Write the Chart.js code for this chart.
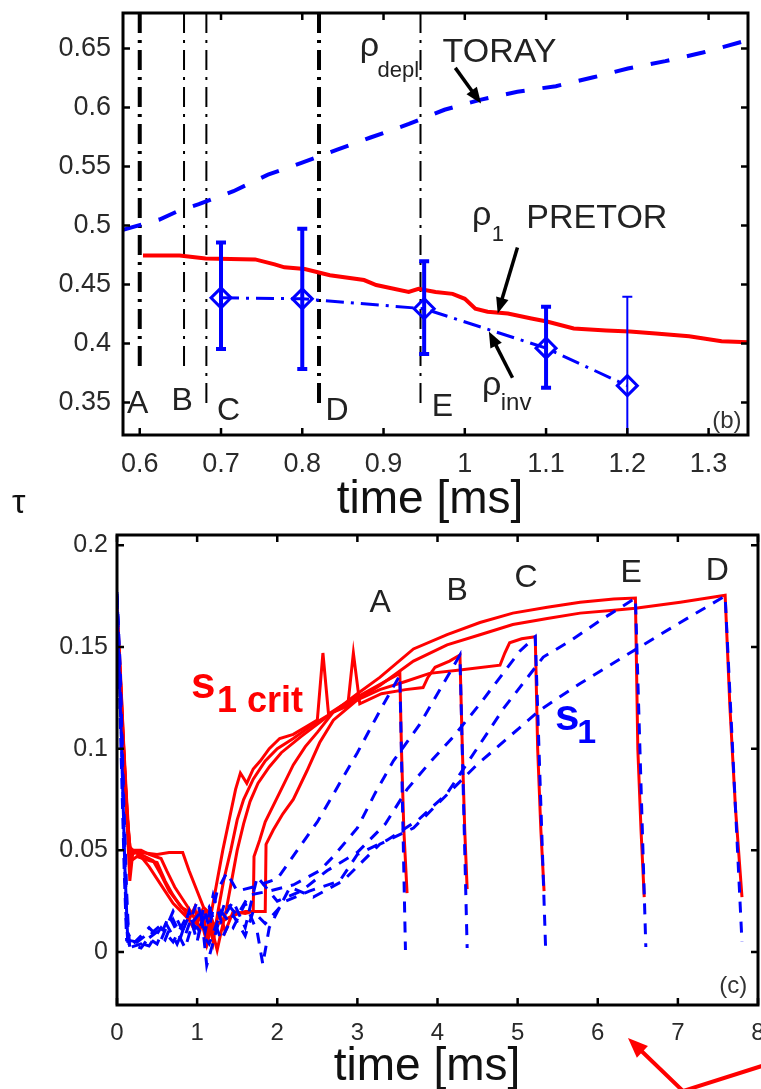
<!DOCTYPE html>
<html>
<head>
<meta charset="utf-8">
<script src="https://cdn.jsdelivr.net/npm/chart.js@4.4.0/dist/chart.umd.min.js"></script>
<style>
  html, body { margin: 0; padding: 0; background: #fff; }
  #wrap { position: relative; width: 761px; height: 1089px; overflow: hidden; font-family: "Liberation Sans", Arial, sans-serif; }
  canvas { position: absolute; left: 0; }
  #topChart { top: 0; }
  #botChart { top: 520px; }
  .lbl { position: absolute; color: #111; white-space: nowrap; line-height: 1; }
</style>
</head>
<body>
<div id="wrap">
  <canvas id="topChart" width="761" height="520"></canvas>
  <canvas id="botChart" width="780" height="569"></canvas>
  <div class="lbl" style="left:430px;top:474px;font-size:46px;transform:translateX(-50%)">time [ms]</div>
  <div class="lbl" style="left:427px;top:1041px;font-size:46px;transform:translateX(-50%)">time [ms]</div>
  <div class="lbl" style="left:12px;top:484px;font-size:34px">τ</div>
</div>
<script>
const FONT = '"Liberation Sans", Arial, sans-serif';

// ---------- panel (b) ----------
const topXTicks = [0.6, 0.7, 0.8, 0.9, 1, 1.1, 1.2, 1.3];
const topYTicks = [0.35, 0.4, 0.45, 0.5, 0.55, 0.6, 0.65];

// rho_depl TORAY
const deplT = [0.5794, 0.6243, 0.6498, 0.6728, 0.7153, 0.7578, 0.799, 0.8439, 0.884, 0.9313, 0.975, 1.02, 1.0648, 1.1121, 1.1583, 1.2007, 1.2468, 1.2929, 1.3485];
const deplV = [0.4963, 0.505, 0.513, 0.518, 0.529, 0.543, 0.553, 0.5645, 0.5745, 0.586, 0.598, 0.6066, 0.6133, 0.618, 0.6255, 0.633, 0.6392, 0.6465, 0.657];

// rho_1 PRETOR
const pretorT = [0.604, 0.649, 0.681, 0.742, 0.766, 0.778, 0.803, 0.834, 0.876, 0.891, 0.931, 0.943, 0.964, 0.985, 1.0, 1.013, 1.028, 1.053, 1.082, 1.101, 1.134, 1.174, 1.203, 1.235, 1.276, 1.316, 1.349];
const pretorV = [0.4746, 0.4746, 0.472, 0.4712, 0.467, 0.4645, 0.463, 0.4578, 0.4537, 0.4495, 0.4436, 0.4462, 0.4436, 0.442, 0.4378, 0.4294, 0.4269, 0.4253, 0.4211, 0.4186, 0.4127, 0.411, 0.4102, 0.4085, 0.406, 0.4018, 0.401];

// rho_inv with error bars
const invT = [0.7, 0.8, 0.95, 1.1, 1.2];
const invV = [0.4386, 0.4378, 0.4294, 0.396, 0.3642];
const invLo = [0.3952, 0.3784, 0.391, 0.3625, 0.2889];
const invHi = [0.4855, 0.4972, 0.4696, 0.4311, 0.4395];
const errWidths = [4, 4, 4, 4, 2];

// crash time markers
const markT = [0.6, 0.6545, 0.682, 0.8206, 0.9455];
const markEnd = [0.375, 0.377, 0.346, 0.345, 0.346];
const markNames = ['A', 'B', 'C', 'D', 'E'];
const markWidths = [4, 2, 2, 4, 2];
const markLabelPos = [[0.5976, 0.3408], [0.6522, 0.3433], [0.7092, 0.335], [0.8427, 0.335], [0.9726, 0.3383]];

// ---------- panel (c) ----------
const botXTicks = [0, 1, 2, 3, 4, 5, 6, 7, 8];
const botYTicks = [0, 0.05, 0.1, 0.15, 0.2];

const critA = [[0,0.168],[0.03,0.145],[0.07,0.11],[0.11,0.08],[0.15,0.052],[0.2,0.05],[0.3,0.047],[0.4,0.042],[0.5,0.036],[0.6,0.03],[0.7,0.024],[0.8,0.02],[0.9,0.016],[0.97,0.022],[1.03,0.01],[1.08,0.018],[1.13,0.006],[1.18,0.02],[1.25,0.035],[1.32,0.05],[1.4,0.065],[1.48,0.08],[1.54,0.088],[1.62,0.083],[1.7,0.09],[1.79,0.094],[1.9,0.1],[2.03,0.105],[2.2,0.107],[2.37,0.111],[2.5,0.114],[2.57,0.147],[2.64,0.117],[2.8,0.121],[3.12,0.128],[3.3,0.132],[3.53,0.137],[3.55,0.1],[3.58,0.06],[3.62,0.029]];
const critB = [[0,0.165],[0.04,0.135],[0.08,0.1],[0.12,0.07],[0.17,0.048],[0.25,0.049],[0.35,0.047],[0.45,0.045],[0.55,0.038],[0.65,0.03],[0.75,0.025],[0.85,0.02],[0.95,0.012],[1.02,0.02],[1.1,0.008],[1.15,0.015],[1.2,0.005],[1.26,0.02],[1.33,0.035],[1.42,0.05],[1.5,0.065],[1.58,0.075],[1.7,0.085],[1.85,0.094],[2.0,0.1],[2.2,0.105],[2.45,0.112],[2.7,0.118],[2.88,0.121],[2.95,0.147],[3.03,0.122],[3.3,0.127],[3.6,0.129],[3.82,0.13],[3.88,0.135],[3.97,0.14],[4.15,0.143],[4.28,0.146],[4.31,0.1],[4.34,0.06],[4.37,0.031]];
const critC = [[0,0.16],[0.05,0.13],[0.09,0.095],[0.13,0.06],[0.16,0.035],[0.2,0.05],[0.3,0.05],[0.4,0.048],[0.55,0.046],[0.62,0.04],[0.72,0.032],[0.82,0.026],[0.92,0.02],[1.0,0.014],[1.06,0.02],[1.12,0.004],[1.18,0.012],[1.25,0.001],[1.3,0.01],[1.36,0.02],[1.43,0.035],[1.5,0.05],[1.58,0.063],[1.66,0.074],[1.76,0.083],[1.9,0.091],[2.05,0.098],[2.3,0.106],[2.7,0.118],[3.0,0.124],[3.28,0.129],[3.6,0.133],[3.9,0.137],[4.28,0.1386],[4.78,0.141],[4.84,0.147],[4.9,0.152],[5.05,0.154],[5.22,0.155],[5.25,0.1],[5.29,0.06],[5.33,0.03]];
const critE = [[0,0.17],[0.04,0.14],[0.08,0.105],[0.12,0.075],[0.16,0.05],[0.3,0.049],[0.5,0.048],[0.65,0.049],[0.82,0.049],[0.9,0.04],[1.0,0.03],[1.08,0.022],[1.16,0.019],[1.22,0.012],[1.28,0.02],[1.35,0.01],[1.45,0.02],[1.6,0.019],[1.7,0.02],[1.71,0.047],[1.78,0.055],[1.85,0.064],[1.95,0.072],[2.05,0.08],[2.2,0.092],[2.35,0.101],[2.5,0.108],[2.7,0.118],[3.0,0.127],[3.28,0.135],[3.7,0.149],[4.12,0.156],[4.53,0.162],[4.94,0.1666],[5.37,0.1695],[5.78,0.172],[6.2,0.1735],[6.47,0.174],[6.5,0.1],[6.54,0.06],[6.58,0.027]];
const critD = [[0,0.166],[0.05,0.12],[0.1,0.085],[0.14,0.06],[0.18,0.045],[0.25,0.047],[0.4,0.045],[0.5,0.044],[0.6,0.035],[0.7,0.028],[0.8,0.022],[0.9,0.02],[1.0,0.016],[1.1,0.02],[1.2,0.012],[1.3,0.015],[1.45,0.018],[1.6,0.02],[1.75,0.02],[1.85,0.02],[1.86,0.053],[1.95,0.06],[2.07,0.068],[2.2,0.075],[2.37,0.089],[2.53,0.103],[2.7,0.114],[3.0,0.124],[3.28,0.131],[3.7,0.143],[4.12,0.151],[4.53,0.156],[4.94,0.161],[5.37,0.164],[5.78,0.1666],[6.2,0.168],[6.47,0.169],[7.03,0.172],[7.59,0.1754],[7.65,0.12],[7.72,0.07],[7.8,0.027]];

const s1A = [[0,0.177],[0.04,0.13],[0.08,0.07],[0.11,0.02],[0.14,0.002],[0.3,0.004],[0.5,0.01],[0.6,0.006],[0.7,0.016],[0.8,0.008],[0.9,0.02],[1.0,0.005],[1.08,0.022],[1.15,0.012],[1.25,0.03],[1.37,0.039],[1.5,0.03],[1.7,0.032],[2.0,0.036],[2.5,0.064],[3.0,0.098],[3.3,0.12],[3.53,0.136],[3.6,0.001]];
const s1B = [[0,0.175],[0.05,0.12],[0.09,0.06],[0.12,0.02],[0.16,0.002],[0.35,0.008],[0.5,0.004],[0.65,0.018],[0.75,0.01],[0.85,0.002],[0.95,0.015],[1.05,0.02],[1.12,-0.0065],[1.25,0.012],[1.35,0.025],[1.5,0.018],[1.65,0.028],[1.9,0.03],[2.2,0.033],[2.53,0.04],[2.7,0.047],[3.0,0.061],[3.22,0.078],[3.45,0.094],[3.78,0.112],[4.28,0.146],[4.37,0.002]];
const s1C = [[0,0.17],[0.05,0.11],[0.1,0.04],[0.13,0.01],[0.2,0.004],[0.4,0.012],[0.55,0.006],[0.7,0.02],[0.85,0.008],[1.0,0.025],[1.1,0.01],[1.2,0.028],[1.3,0.015],[1.45,0.025],[1.6,0.012],[1.75,0.037],[2.0,0.025],[2.3,0.03],[2.62,0.04],[3.0,0.049],[3.35,0.063],[3.62,0.08],[3.9,0.093],[4.2,0.106],[4.53,0.122],[5.03,0.148],[5.22,0.155],[5.35,0.001]];
const s1E = [[0,0.176],[0.04,0.14],[0.08,0.08],[0.12,0.03],[0.15,0.004],[0.3,0.002],[0.45,0.01],[0.6,0.015],[0.75,0.004],[0.9,0.018],[1.0,0.01],[1.15,0.022],[1.3,0.006],[1.45,0.018],[1.6,0.008],[1.7,0.02],[1.85,0.014],[2.1,0.025],[2.4,0.03],[2.78,0.035],[3.0,0.048],[3.37,0.055],[3.76,0.065],[4.12,0.078],[4.83,0.12],[5.32,0.145],[5.66,0.153],[6.03,0.163],[6.47,0.174],[6.6,0.0025]];
const s1D = [[0,0.174],[0.05,0.1],[0.09,0.04],[0.12,0.006],[0.25,0.005],[0.4,0.003],[0.55,0.012],[0.7,0.005],[0.85,0.016],[1.0,0.012],[1.15,0.004],[1.3,0.02],[1.45,0.012],[1.6,0.024],[1.75,0.01],[1.82,-0.006],[1.9,0.012],[2.16,0.032],[2.45,0.027],[2.82,0.035],[3.28,0.053],[3.7,0.061],[4.49,0.092],[5.28,0.119],[5.78,0.132],[6.4,0.147],[7.03,0.162],[7.59,0.175],[7.8,0.005]];

const crashNames = ['A', 'B', 'C', 'E', 'D'];
const crashLabelPos = [[3.283, 0.1671], [4.245, 0.173], [5.106, 0.1794], [6.417, 0.1818], [7.491, 0.1828]];

// ---------- helpers ----------
const fmt = v => String(+Number(v).toFixed(2));
const pts = (ts, vs) => ts.map((t, i) => ({ x: t, y: vs[i] }));
const pairs = arr => arr.map(p => ({ x: p[0], y: p[1] }));

function px(chart, x, y) {
  return [chart.scales.x.getPixelForValue(x), chart.scales.y.getPixelForValue(y)];
}

function text(chart, s, x, y, size, color, align, weight) {
  const ctx = chart.ctx;
  const [X, Y] = px(chart, x, y);
  ctx.font = (weight || 'normal') + ' ' + size + 'px ' + FONT;
  ctx.fillStyle = color;
  ctx.textAlign = align || 'left';
  ctx.textBaseline = 'alphabetic';
  ctx.fillText(s, X, Y);
}

function arrowPx(ctx, x0, y0, x1, y1, head, w, color) {
  const a = Math.atan2(y1 - y0, x1 - x0);
  const c = Math.cos(a), s = Math.sin(a);
  ctx.strokeStyle = color; ctx.fillStyle = color; ctx.lineWidth = w;
  ctx.beginPath();
  ctx.moveTo(x0, y0);
  ctx.lineTo(x1 - c * head * 0.7, y1 - s * head * 0.7);
  ctx.stroke();
  ctx.beginPath();
  ctx.moveTo(x1, y1);
  ctx.lineTo(x1 - head * c + head * 0.4 * s, y1 - head * s - head * 0.4 * c);
  ctx.lineTo(x1 - head * c - head * 0.4 * s, y1 - head * s + head * 0.4 * c);
  ctx.closePath();
  ctx.fill();
}

function arrow(chart, x0, y0, x1, y1, head, w, color) {
  const [a, b] = px(chart, x0, y0);
  const [c, d] = px(chart, x1, y1);
  arrowPx(chart.ctx, a, b, c, d, head, w, color);
}

function frameAndTicks(chart, xt, yt, len) {
  const { ctx, chartArea: a, scales } = chart;
  ctx.save();
  ctx.strokeStyle = '#000';
  ctx.lineWidth = 2.5;
  ctx.beginPath();
  xt.forEach(v => {
    const p = scales.x.getPixelForValue(v);
    ctx.moveTo(p, a.bottom); ctx.lineTo(p, a.bottom - len);
    ctx.moveTo(p, a.top); ctx.lineTo(p, a.top + len);
  });
  yt.forEach(v => {
    const p = scales.y.getPixelForValue(v);
    ctx.moveTo(a.left, p); ctx.lineTo(a.left + len, p);
    ctx.moveTo(a.right, p); ctx.lineTo(a.right - len, p);
  });
  ctx.stroke();
  ctx.lineWidth = 3;
  ctx.strokeRect(a.left, a.top, a.right - a.left, a.bottom - a.top);
  ctx.restore();
}

function axisOpts(min, max, tickList, fontSize, pad, size, horizontal) {
  return {
    type: 'linear', min, max,
    grid: { display: false, drawTicks: false, tickLength: 0 },
    border: { display: false },
    afterBuildTicks: s => { s.ticks = tickList.map(v => ({ value: v })); },
    afterFit: s => {
      if (horizontal) s.height = size; else s.width = size;
      s.paddingTop = 0; s.paddingBottom = 0; s.paddingLeft = 0; s.paddingRight = 0;
    },
    ticks: {
      autoSkip: false, maxRotation: 0, padding: pad,
      color: '#2a2a2a',
      font: { size: fontSize, family: FONT },
      callback: v => fmt(v)
    }
  };
}

// ---------- top chart ----------
const topDecor = {
  id: 'topDecor',
  afterDatasetsDraw(chart) {
    const { ctx, chartArea: a } = chart;
    ctx.save();
    ctx.beginPath();
    ctx.rect(a.left, a.top, a.right - a.left, a.bottom - a.top);
    ctx.clip();
    ctx.strokeStyle = '#0000ff';
    invT.forEach((t, i) => {
      const [x, yl] = px(chart, t, invLo[i]);
      const yh = chart.scales.y.getPixelForValue(invHi[i]);
      ctx.lineWidth = errWidths[i];
      ctx.beginPath();
      ctx.moveTo(x, yl); ctx.lineTo(x, yh);
      ctx.moveTo(x - 5, yl); ctx.lineTo(x + 5, yl);
      ctx.moveTo(x - 5, yh); ctx.lineTo(x + 5, yh);
      ctx.stroke();
    });
    ctx.restore();
  },
  afterDraw(chart) {
    const ctx = chart.ctx;
    ctx.save();
    frameAndTicks(chart, topXTicks, topYTicks, 7);
    markNames.forEach((n, i) => text(chart, n, markLabelPos[i][0], markLabelPos[i][1], 32, '#222', 'center'));
    text(chart, 'ρ', 0.8706, 0.6435, 34, '#222');
    text(chart, 'depl', 0.8925, 0.626, 22, '#222');
    text(chart, 'TORAY', 0.9726, 0.6385, 34, '#222');
    arrow(chart, 0.9883, 0.6335, 1.02, 0.6033, 16, 3.5, '#000');
    text(chart, 'ρ', 1.009, 0.5005, 34, '#222');
    text(chart, '1', 1.0333, 0.4871, 22, '#222');
    text(chart, 'PRETOR', 1.0757, 0.498, 34, '#222');
    arrow(chart, 1.0648, 0.4813, 1.0405, 0.4253, 16, 3.5, '#000');
    text(chart, 'ρ', 1.0211, 0.3559, 34, '#222');
    text(chart, 'inv', 1.0442, 0.3433, 24, '#222');
    arrow(chart, 1.0587, 0.3709, 1.0296, 0.4102, 16, 3.5, '#000');
    text(chart, '(b)', 1.3405, 0.3283, 24, '#333', 'right');
    ctx.restore();
  }
};

const topSets = [];
topSets.push({ data: pts(invT, invV), borderColor: '#0000ff', borderWidth: 3, borderDash: [18, 7, 3, 7],
  pointStyle: 'rectRot', pointRadius: 10, pointBorderWidth: 3, pointBorderColor: '#0000ff', pointBackgroundColor: 'rgba(0,0,0,0)' });
topSets.push({ data: pts(deplT, deplV), borderColor: '#0000ff', borderWidth: 4, borderDash: [19, 18], pointRadius: 0 });
topSets.push({ data: pts(pretorT, pretorV), borderColor: '#ff0000', borderWidth: 4, pointRadius: 0 });
markT.forEach((t, i) => {
  topSets.push({ data: [{ x: t, y: 0.68 }, { x: t, y: markEnd[i] }], borderColor: '#000',
    borderWidth: markWidths[i], borderDash: [20, 7, 3, 7], pointRadius: 0 });
});

new Chart(document.getElementById('topChart'), {
  type: 'line',
  data: { datasets: topSets },
  options: {
    responsive: false, animation: false, devicePixelRatio: 1,
    layout: { padding: { top: 7, right: 4, left: 0, bottom: 0 } },
    plugins: { legend: { display: false }, tooltip: { enabled: false } },
    elements: { line: { tension: 0 } },
    scales: {
      x: axisOpts(0.5794, 1.3485, topXTicks, 27, 13, 85, true),
      y: axisOpts(0.3224, 0.680, topYTicks, 27, 12, 123, false)
    }
  },
  plugins: [topDecor]
});

// ---------- bottom chart ----------
const botDecor = {
  id: 'botDecor',
  afterDraw(chart) {
    const ctx = chart.ctx;
    ctx.save();
    frameAndTicks(chart, botXTicks, botYTicks, 7);
    crashNames.forEach((n, i) => text(chart, n, crashLabelPos[i][0], crashLabelPos[i][1], 32, '#222', 'center'));
    text(chart, 's', 0.924, 0.1248, 44, '#ff0000', 'left', 'bold');
    text(chart, '1 crit', 1.248, 0.118, 36, '#ff0000', 'left', 'bold');
    text(chart, 's', 5.468, 0.1091, 44, '#0000ff', 'left', 'bold');
    text(chart, '1', 5.743, 0.1027, 34, '#0000ff', 'left', 'bold');
    text(chart, '(c)', 7.865, -0.0201, 24, '#333', 'right');
    // red pointer below the axis
    ctx.lineCap = 'round';
    arrowPx(ctx, 684, 572, 628, 518, 20, 4, '#ff0000');
    ctx.beginPath();
    ctx.moveTo(680, 572); ctx.lineTo(765, 545);
    ctx.stroke();
    ctx.restore();
  }
};

const blueStyle = { borderColor: '#0000ff', borderWidth: 3, borderDash: [11, 9], pointRadius: 0 };
const redStyle = { borderColor: '#ff0000', borderWidth: 3, pointRadius: 0 };
const botSets = [s1A, s1B, s1C, s1E, s1D].map(d => Object.assign({ data: pairs(d) }, blueStyle))
  .concat([critA, critB, critC, critE, critD].map(d => Object.assign({ data: pairs(d) }, redStyle)));

new Chart(document.getElementById('botChart'), {
  type: 'line',
  data: { datasets: botSets },
  options: {
    responsive: false, animation: false, devicePixelRatio: 1,
    layout: { padding: { top: 15, right: 22, left: 0, bottom: 0 } },
    plugins: { legend: { display: false }, tooltip: { enabled: false } },
    elements: { line: { tension: 0 } },
    scales: {
      x: axisOpts(0, 8, botXTicks, 24, 14, 84, true),
      y: axisOpts(-0.026, 0.205, botYTicks, 25, 9, 117, false)
    }
  },
  plugins: [botDecor]
});
</script>
</body>
</html>
